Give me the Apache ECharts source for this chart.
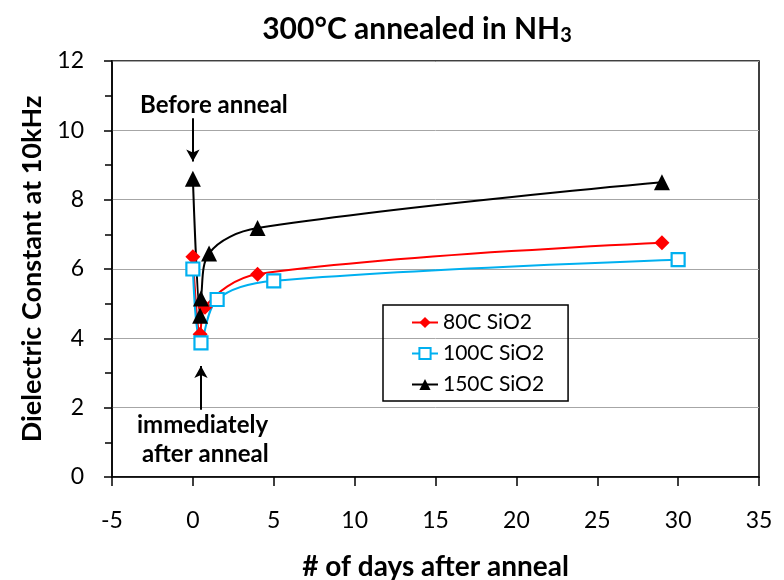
<!DOCTYPE html>
<html>
<head>
<meta charset="utf-8">
<script src="https://cdn.jsdelivr.net/npm/echarts@6/dist/echarts.min.js"></script>
<style>
  html, body { margin: 0; padding: 0; background: #fff; }
  #chart { width: 784px; height: 580px; }
</style>
</head>
<body>
<div id="chart"></div>
<script>
// Dielectric constant vs. days after a 300°C NH3 anneal, three SiO2 films
const seriesNames = ['80C SiO2', '100C SiO2', '150C SiO2'];

// [days after anneal, dielectric constant at 10 kHz]
const sio2_80C  = [[0, 6.35], [0.45, 4.12], [0.75, 4.9], [4, 5.85], [29, 6.76]];
const sio2_100C = [[0, 6.0], [0.5, 3.87], [1.5, 5.12], [5, 5.66], [30, 6.27]];
const sio2_150C = [[0, 8.6], [0.45, 4.65], [0.5, 5.15], [1, 6.45], [4, 7.18], [29, 8.5]];

const xMin = -5, xMax = 35, xStep = 5;
const yMin = 0, yMax = 12, yStep = 2;

const FONT = 'Lato, "Open Sans", sans-serif';

const chart = echarts.init(document.getElementById('chart'), null, { renderer: 'canvas' });

chart.setOption({
  animation: false,
  backgroundColor: '#fff',
  title: {
    text: '{t|300°C annealed in NH}{s|3}',
    left: 412,
    top: 7,
    textAlign: 'center',
    textStyle: {
      rich: {
        t: { fontFamily: FONT, fontWeight: 'bold', fontSize: 30, color: '#000' },
        s: { fontFamily: FONT, fontWeight: 'bold', fontSize: 20, color: '#000', padding: [14, 0, 0, 0] }
      }
    }
  },
  grid: {
    left: 112, right: 25, top: 61, bottom: 103,
    outerBoundsMode: 'none',
    containLabel: false,
    show: true, borderColor: '#000', borderWidth: 1.5, backgroundColor: 'transparent'
  },
  legend: {
    orient: 'vertical',
    left: 383, top: 305,
    data: seriesNames,
    itemWidth: 26, itemHeight: 14, itemGap: 10,
    padding: [7, 24, 6, 28],
    borderColor: '#000', borderWidth: 1.5,
    textStyle: { fontFamily: FONT, fontSize: 21, color: '#000', lineHeight: 20 }
  },
  xAxis: {
    type: 'value',
    min: xMin, max: xMax, interval: xStep,
    name: '# of days after anneal',
    nameLocation: 'middle',
    nameGap: 76,
    nameTextStyle: { fontFamily: FONT, fontWeight: 'bold', fontSize: 28, color: '#000' },
    axisLine: { show: true, onZero: false, lineStyle: { color: '#000', width: 1.5 } },
    axisTick: { show: true, length: 9, lineStyle: { color: '#000', width: 1.5 } },
    axisLabel: { fontFamily: FONT, fontSize: 23, color: '#000', margin: 32 },
    splitLine: { show: false }
  },
  yAxis: {
    type: 'value',
    min: yMin, max: yMax, interval: yStep,
    name: 'Dielectric Constant at 10kHz',
    nameLocation: 'middle',
    nameGap: 66,
    nameTextStyle: { fontFamily: FONT, fontWeight: 'bold', fontSize: 27, color: '#000' },
    axisLine: { show: true, onZero: false, lineStyle: { color: '#000', width: 1.5 } },
    axisTick: { show: true, length: 8, lineStyle: { color: '#000', width: 1.5 } },
    minorTick: { show: true, splitNumber: 2, length: 7, lineStyle: { color: '#000', width: 1.5 } },
    axisLabel: { fontFamily: FONT, fontSize: 23, color: '#000', margin: 28 },
    splitLine: { show: true, lineStyle: { color: '#a6a6a6', width: 1 } }
  },
  series: [
    {
      name: seriesNames[0],
      type: 'line',
      data: sio2_80C,
      smooth: 0.35,
      symbol: 'diamond',
      symbolSize: 15,
      lineStyle: { color: '#ff0000', width: 2 },
      itemStyle: { color: '#ff0000' }
    },
    {
      name: seriesNames[1],
      type: 'line',
      data: sio2_100C,
      smooth: 0.35,
      symbol: 'rect',
      symbolSize: 13,
      lineStyle: { color: '#00b0f0', width: 2 },
      itemStyle: { color: '#fff', borderColor: '#00b0f0', borderWidth: 2.2 }
    },
    {
      name: seriesNames[2],
      type: 'line',
      data: sio2_150C,
      smooth: 0.35,
      symbol: 'triangle',
      symbolSize: 16,
      lineStyle: { color: '#000', width: 2 },
      itemStyle: { color: '#000' },
      markLine: {
        silent: true,
        symbol: ['none', 'arrow'],
        symbolSize: [10, 12],
        label: { show: false },
        lineStyle: { color: '#000', width: 2, type: 'solid' },
        data: [
          [{ coord: [0, 10.35] }, { coord: [0, 9.1] }],
          [{ coord: [0.5, 1.94] }, { coord: [0.5, 3.2] }]
        ]
      }
    }
  ],
  graphic: [
    {
      type: 'text', left: 140, top: 93,
      style: { text: 'Before anneal', font: 'bold 24px ' + FONT, fill: '#000' }
    },
    {
      type: 'text', left: 137, top: 413,
      style: { text: 'immediately', font: 'bold 24px ' + FONT, fill: '#000' }
    },
    {
      type: 'text', left: 142, top: 442,
      style: { text: 'after anneal', font: 'bold 24px ' + FONT, fill: '#000' }
    }
  ]
});
</script>
</body>
</html>
